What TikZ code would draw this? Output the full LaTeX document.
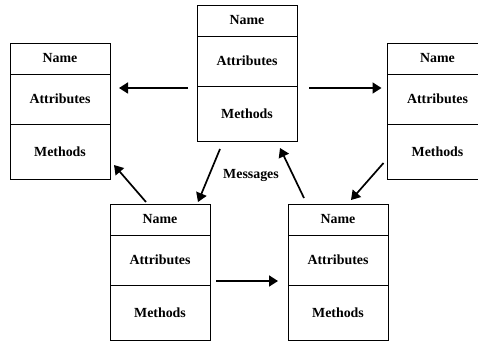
\documentclass[tikz,border=0pt]{standalone}
\usepackage{fontspec}
\setmainfont{Liberation Serif}
\usetikzlibrary{positioning,arrows.meta}

\begin{document}
\begin{tikzpicture}[x=1pt,y=-1pt,
  part/.style={draw, line width=0.8pt, minimum width=100pt, inner sep=0pt, outer sep=0pt,
               font=\fontsize{13.9}{16}\selectfont\bfseries, minimum height=#1},
  arr/.style={-{Triangle[length=9pt,width=11pt]}, line width=1.7pt},
  node distance=0pt
]
  \useasboundingbox (0,0) rectangle (478,342);
  \clip (0,0) rectangle (478,342);

  % class boxes: name / attributes / methods (the right one runs off the page)
  \foreach \id/\x/\y in {top/247/20.5, left/60/58.5, right/437.5/58.5, lowleft/160/219.5, lowright/338/219.5} {
    \node[part=31pt] (\id-name) at (\x,\y) {Name};
    \node[part=50pt, below=of \id-name] (\id-attr) {Attributes};
    \node[part=55pt, below=of \id-attr] (\id-meth) {Methods};
  }

  \node[font=\fontsize{13.9}{16}\selectfont\bfseries] (msg) at (251,175) {Messages};

  % messages between objects
  \draw[arr] ([xshift=-9pt,yshift=-2pt]top-meth.north west) -- ([xshift=9pt,yshift=-2pt]top-meth.north west -| left-attr.east);
  \draw[arr] ([xshift=12pt,yshift=-2pt]top-meth.north east) -- ([xshift=-6pt,yshift=-2pt]top-meth.north east -| right-attr.west);
  \draw[arr] ([xshift=23pt,yshift=-8pt]top-meth.south west) -- ([xshift=-12pt,yshift=2pt]lowleft-name.north east);
  \draw[arr] ([xshift=36pt,yshift=2pt]lowleft-name.north west) -- ([xshift=4pt,yshift=14pt]left-meth.south east);
  \draw[arr] ([xshift=16pt,yshift=6pt]lowright-name.north west) -- ([xshift=-17pt,yshift=-7pt]top-meth.south east);
  \draw[arr] ([xshift=-4pt,yshift=16pt]right-meth.south west) -- ([xshift=13pt,yshift=4pt]lowright-name.north);
  \draw[arr] ([xshift=6pt,yshift=4pt]lowleft-meth.north east) -- ([xshift=-10pt,yshift=4pt]lowright-meth.north west);
\end{tikzpicture}
\end{document}
